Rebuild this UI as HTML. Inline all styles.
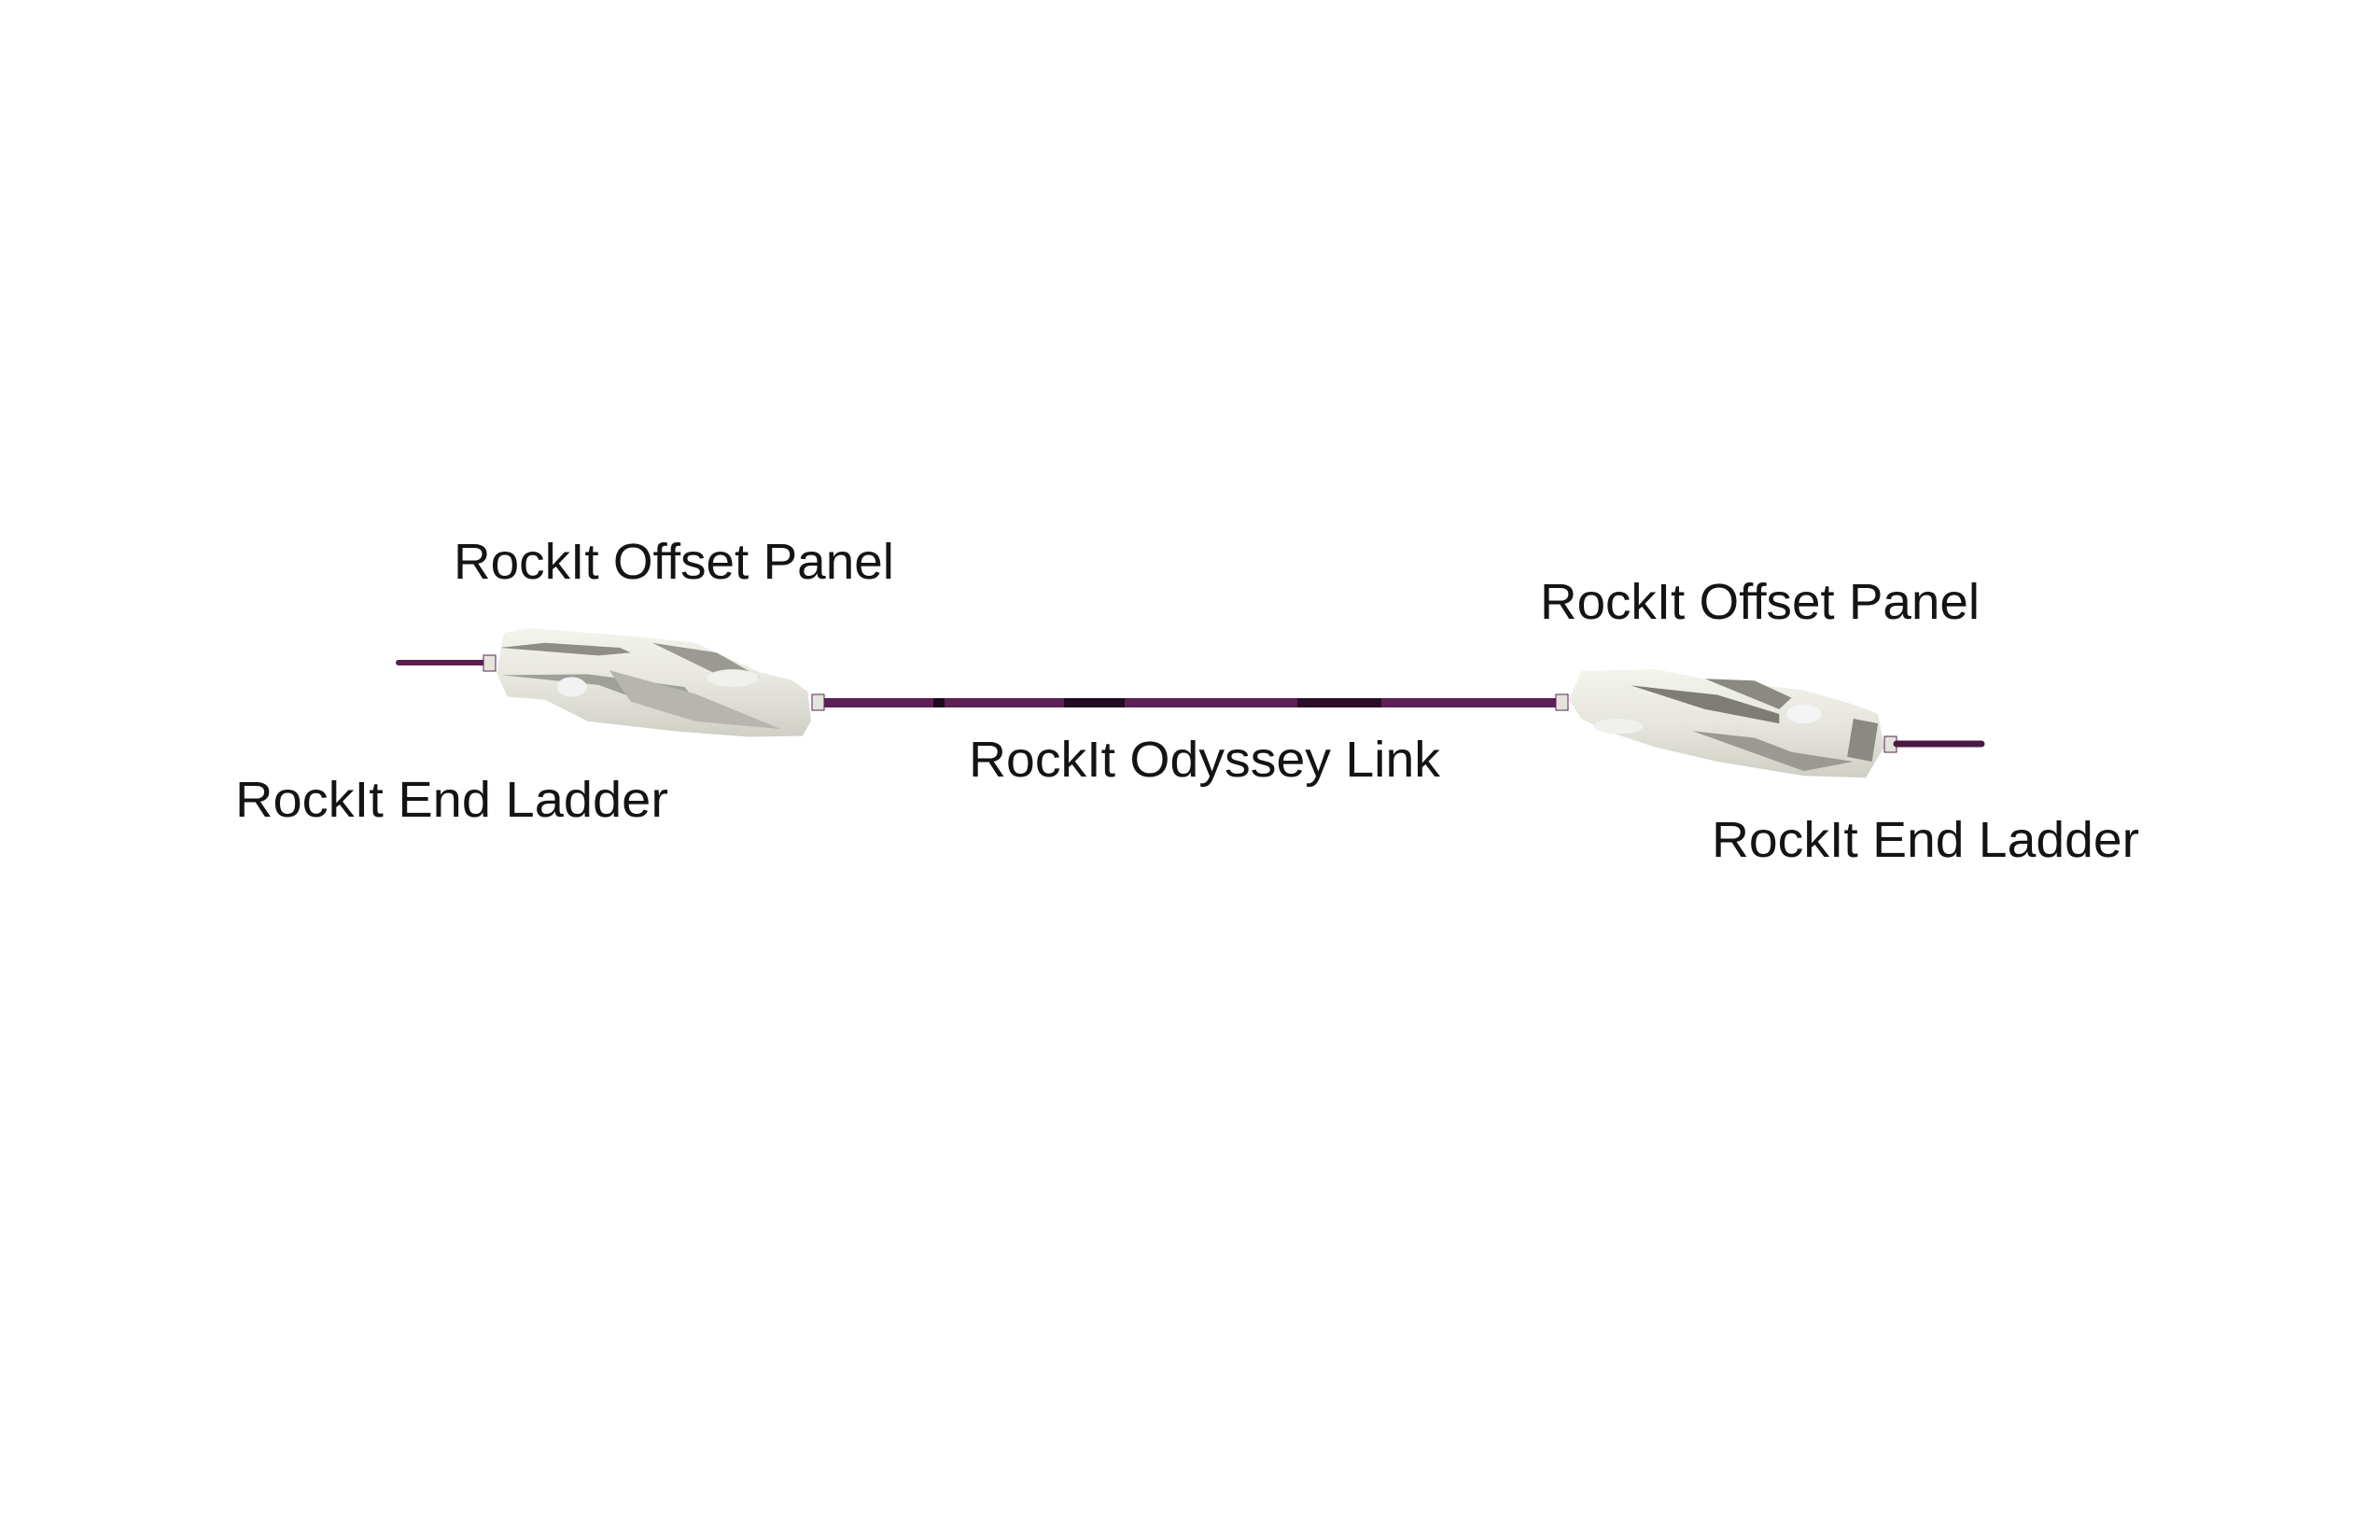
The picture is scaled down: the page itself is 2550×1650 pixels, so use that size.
<!DOCTYPE html>
<html><head><meta charset="utf-8"><style>
html,body{margin:0;padding:0;background:#fff;}
svg{display:block}
text{font-family:"Liberation Sans",sans-serif;font-size:54px;fill:#141414;}
</style></head><body>
<svg width="2550" height="1650" viewBox="0 0 2550 1650">
<defs>
<linearGradient id="g1" x1="0" y1="0" x2="0" y2="1">
<stop offset="0" stop-color="#f4f4ee"/><stop offset="0.5" stop-color="#e6e6de"/><stop offset="1" stop-color="#cfcfc6"/>
</linearGradient>
</defs>
<!-- left end line -->
<line x1="427" y1="710" x2="518" y2="710" stroke="#5a1f52" stroke-width="6" stroke-linecap="round"/>
<rect x="518" y="702" width="13" height="17" fill="#e4e4dc" stroke="#5a1f52" stroke-width="1"/>
<!-- main link -->
<rect x="883" y="748" width="784" height="10" fill="#5c2054"/>
<rect x="1000" y="748" width="12" height="10" fill="#1e0a1c"/>
<rect x="1140" y="748" width="65" height="10" fill="#220b20"/>
<rect x="1390" y="748" width="90" height="10" fill="#2a0e28"/>
<rect x="870" y="744" width="13" height="17" fill="#e4e4dc" stroke="#5a1f52" stroke-width="1"/>
<rect x="1667" y="744" width="13" height="17" fill="#e4e4dc" stroke="#5a1f52" stroke-width="1"/>
<!-- left panel -->
<g transform="translate(532,673) scale(1.15,1.05) translate(-515,-675)">
<path d="M522,680 L545,675 L640,683 L700,690 L760,720 L790,728 L805,740 L808,770 L800,785 L750,786 L680,780 L600,770 L560,748 L525,745 L515,720 Z" fill="url(#g1)"/>
<path d="M518,695 L610,703 L640,700 L630,695 L560,690 Z" fill="#8e8e86"/>
<path d="M520,723 L600,722 L690,735 L700,748 L640,745 L610,733 Z" fill="#a0a09a"/>
<path d="M620,718 L700,742 L780,778 L700,770 L640,750 Z" fill="#b6b6ae"/>
<path d="M660,690 L720,700 L760,725 L720,722 Z" fill="#9a9a92"/>
<ellipse cx="585" cy="735" rx="14" ry="10" fill="#f2f2f2"/>
<ellipse cx="735" cy="726" rx="24" ry="9" fill="#f0f0ec"/>
</g>
<!-- right panel -->
<g transform="translate(1681,717) scale(1.325,1.02) translate(-1690,-718)">
<path d="M1700,720 L1760,718 L1800,728 L1880,740 L1920,755 L1940,765 L1945,800 L1930,832 L1880,830 L1810,815 L1760,800 L1720,783 L1700,770 L1690,750 Z" fill="url(#g1)"/>
<path d="M1740,735 L1810,745 L1860,765 L1860,775 L1800,760 Z" fill="#7d7d76"/>
<path d="M1800,728 L1840,730 L1870,748 L1860,760 Z" fill="#8a8a82"/>
<path d="M1790,783 L1840,790 L1870,805 L1920,815 L1880,825 Z" fill="#9a9a92"/>
<path d="M1920,770 L1940,775 L1935,815 L1915,810 Z" fill="#8a8a82"/>
<ellipse cx="1880" cy="765" rx="14" ry="10" fill="#f4f4f4"/>
<ellipse cx="1730" cy="778" rx="20" ry="8" fill="#f0f0ec"/>
</g>
<rect x="2019" y="789" width="13" height="17" fill="#e4e4dc" stroke="#5a1f52" stroke-width="1"/>
<line x1="2032" y1="797" x2="2123" y2="797" stroke="#4a1844" stroke-width="7" stroke-linecap="round"/>
<!-- labels -->
<text x="486" y="620" textLength="472" lengthAdjust="spacingAndGlyphs">RockIt Offset Panel</text>
<text x="252" y="875" textLength="464" lengthAdjust="spacingAndGlyphs">RockIt End Ladder</text>
<text x="1038" y="832" textLength="505" lengthAdjust="spacingAndGlyphs">RockIt Odyssey Link</text>
<text x="1650" y="663" textLength="471" lengthAdjust="spacingAndGlyphs">RockIt Offset Panel</text>
<text x="1834" y="918" textLength="458" lengthAdjust="spacingAndGlyphs">RockIt End Ladder</text>
</svg>
</body></html>
